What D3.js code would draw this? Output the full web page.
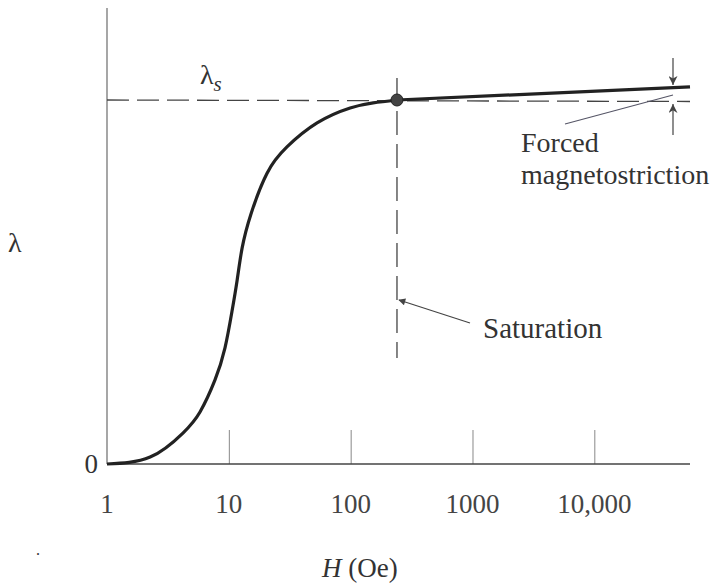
<!DOCTYPE html>
<html>
<head>
<meta charset="utf-8">
<script src="https://cdn.jsdelivr.net/npm/d3@7"></script>
<style>
  body { margin: 0; background: #fff; }
  text { font-family: "Liberation Serif", "DejaVu Serif", serif; fill: #333; }
</style>
</head>
<body>
<svg id="svg_chart" width="722" height="585"></svg>
<script>
// magnetization curve, lambda normalised to lambda_s = 1
const hValues = [1, 2.26, 4.2, 5.8, 7.7, 9.3, 10.6, 11.7, 12.85, 15.2, 20.6, 30, 53, 99, 153, 240];
const lambdaValues = [0, 0.019, 0.085, 0.143, 0.231, 0.319, 0.418, 0.505, 0.593, 0.687, 0.799, 0.871, 0.937, 0.978, 0.992, 1.0];
// forced magnetostriction part, beyond saturation
const forcedH = [240, 61000];
const forcedLambda = [1.0, 1.036];
const tickValues = [10, 100, 1000, 10000];
const tickLabels = ['1', '10', '100', '1000', '10,000'];
const labelValues = [1, 10, 100, 1000, 10000];
const lambdaS = 1;
const hSat = 240;

const svg = d3.select('#svg_chart');
const margin = { top: 8, left: 107 };
const x_end = 690;
const y_zero = 464;

const x = d3.scaleLog().domain([1, 61000]).range([margin.left, x_end]);
const y = d3.scaleLinear().domain([0, 1]).range([y_zero, 100]);

const defs = svg.append('defs');
defs.append('marker')
  .attr('id', 'arrow')
  .attr('viewBox', '0 0 10 10')
  .attr('refX', 9).attr('refY', 5)
  .attr('markerWidth', 10).attr('markerHeight', 7)
  .attr('markerUnits', 'userSpaceOnUse')
  .attr('orient', 'auto')
  .append('path')
  .attr('d', 'M0,0 L10,5 L0,10 z')
  .attr('fill', '#444');
defs.append('marker')
  .attr('id', 'arrow_big')
  .attr('viewBox', '0 0 10 10')
  .attr('refX', 10).attr('refY', 5)
  .attr('markerWidth', 12).attr('markerHeight', 9)
  .attr('markerUnits', 'userSpaceOnUse')
  .attr('orient', 'auto')
  .append('path')
  .attr('d', 'M0,0 L10,5 L0,10 L3,5 z')
  .attr('fill', '#444');

// axes
svg.append('line')
  .attr('x1', x(1)).attr('x2', x(1))
  .attr('y1', margin.top).attr('y2', y(0))
  .attr('stroke', '#777').attr('stroke-width', 1.3);

const xAxis = d3.axisTop(x)
  .tickValues(tickValues)
  .tickSize(34)
  .tickFormat('');
const gx = svg.append('g')
  .attr('transform', `translate(0,${y(0)})`)
  .call(xAxis);
gx.select('.domain').remove();
gx.selectAll('.tick line').attr('stroke', '#888').attr('stroke-width', 1);

svg.append('line')
  .attr('x1', x(1)).attr('x2', x_end)
  .attr('y1', y(0)).attr('y2', y(0))
  .attr('stroke', '#444').attr('stroke-width', 1.6);

svg.append('g')
  .selectAll('text')
  .data(labelValues)
  .enter()
  .append('text')
  .attr('x', d => x(d))
  .attr('y', 513)
  .attr('text-anchor', 'middle')
  .style('font-size', '27px')
  .style('fill', '#444')
  .text((d, i) => tickLabels[i]);

svg.append('text')
  .attr('x', 98).attr('y', y(0) + 9)
  .attr('text-anchor', 'end')
  .style('font-size', '27px')
  .text('0');

// lambda_s level and saturation line
svg.append('line')
  .attr('x1', x(1)).attr('x2', x_end)
  .attr('y1', y(lambdaS)).attr('y2', y(lambdaS) + 1.5)
  .attr('stroke', '#444').attr('stroke-width', 1.3)
  .attr('stroke-dasharray', '22,8');

svg.append('line')
  .attr('x1', x(hSat)).attr('x2', x(hSat))
  .attr('y1', 78).attr('y2', 358)
  .attr('stroke', '#444').attr('stroke-width', 1.3)
  .attr('stroke-dasharray', '24,9');

// curve
const line = d3.line()
  .x(d => x(d[0]))
  .y(d => y(d[1]))
  .curve(d3.curveNatural);

svg.append('path')
  .datum(hValues.map((h, i) => [h, lambdaValues[i]]))
  .attr('d', line)
  .attr('fill', 'none')
  .attr('stroke', '#222')
  .attr('stroke-width', 3.2);

svg.append('path')
  .datum(forcedH.map((h, i) => [h, forcedLambda[i]]))
  .attr('d', d3.line().x(d => x(d[0])).y(d => y(d[1])))
  .attr('fill', 'none')
  .attr('stroke', '#222')
  .attr('stroke-width', 3.2);

svg.append('circle')
  .attr('cx', x(hSat)).attr('cy', y(lambdaS))
  .attr('r', 6)
  .attr('fill', '#444')
  .attr('stroke', '#222');

// forced magnetostriction markers
const x_arr = 673;
svg.append('line')
  .attr('x1', x_arr).attr('x2', x_arr)
  .attr('y1', 58).attr('y2', y(forcedLambda[1]) - 2)
  .attr('stroke', '#444').attr('stroke-width', 1.2)
  .attr('marker-end', 'url(#arrow_big)');
svg.append('line')
  .attr('x1', x_arr).attr('x2', x_arr)
  .attr('y1', 135).attr('y2', y(lambdaS) + 4)
  .attr('stroke', '#444').attr('stroke-width', 1.2)
  .attr('marker-end', 'url(#arrow_big)');
svg.append('line')
  .attr('x1', 565).attr('x2', 673)
  .attr('y1', 124).attr('y2', 95)
  .attr('stroke', '#556').attr('stroke-width', 1.1);

svg.append('text')
  .attr('x', 521).attr('y', 152)
  .style('font-size', '28px')
  .text('Forced');
svg.append('text')
  .attr('x', 521).attr('y', 184)
  .style('font-size', '28px')
  .text('magnetostriction');

// saturation label
svg.append('line')
  .attr('x1', 470).attr('x2', x(hSat) + 2)
  .attr('y1', 323).attr('y2', 300)
  .attr('stroke', '#444').attr('stroke-width', 1.2)
  .attr('marker-end', 'url(#arrow)');
svg.append('text')
  .attr('x', 483).attr('y', 338)
  .style('font-size', '29px')
  .text('Saturation');

// axis titles
svg.append('text')
  .attr('x', 8).attr('y', 252)
  .style('font-size', '28px')
  .text('λ');

const ls = svg.append('text')
  .attr('x', 200).attr('y', 84)
  .style('font-size', '28px');
ls.append('tspan').text('λ');
ls.append('tspan')
  .attr('dy', 7)
  .style('font-style', 'italic')
  .style('font-size', '21px')
  .text('s');

const ht = svg.append('text')
  .attr('x', 322).attr('y', 577)
  .style('font-size', '27px');
ht.append('tspan').style('font-style', 'italic').text('H');
ht.append('tspan').text(' (Oe)');

svg.append('text')
  .attr('x', 36).attr('y', 555)
  .style('font-size', '16px')
  .text('.');
</script>
</body>
</html>
